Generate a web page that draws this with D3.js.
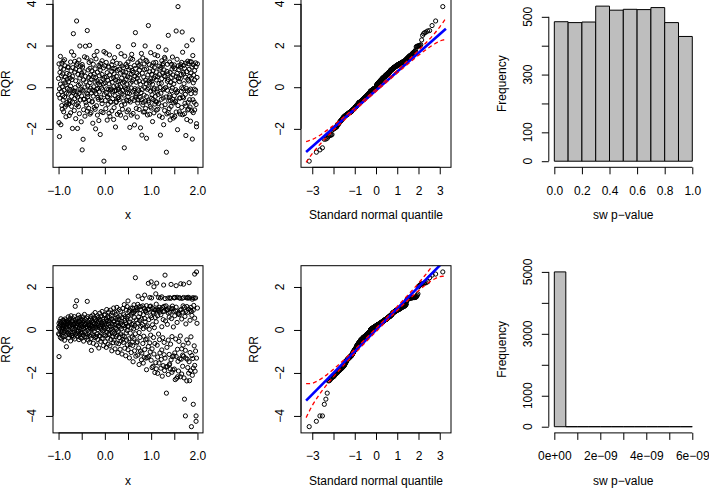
<!DOCTYPE html>
<html><head><meta charset="utf-8">
<script src="https://cdn.jsdelivr.net/npm/d3@7/dist/d3.min.js"></script>
<style>
body{margin:0;background:#fff}
svg{display:block;background:#fff}
text{font-family:"Liberation Sans",Arial,Helvetica,sans-serif;font-size:12px;fill:#000}
</style></head>
<body><svg id="chart" width="709" height="489"></svg>
<script>
// ---------------- DATA ----------------
const xCovariate = [
-1.00,-1.00,-0.99,-0.99,-0.98,-0.98,-0.97,-0.97,-0.96,-0.96,-0.95,-0.95,-0.94,-0.94,-0.93,-0.93,-0.92,-0.92,-0.91,-0.91,
-0.90,-0.90,-0.89,-0.89,-0.89,-0.88,-0.87,-0.87,-0.86,-0.86,-0.86,-0.85,-0.84,-0.84,-0.83,-0.83,-0.82,-0.82,-0.81,-0.81,
-0.80,-0.79,-0.79,-0.78,-0.78,-0.77,-0.77,-0.77,-0.76,-0.75,-0.75,-0.74,-0.74,-0.74,-0.73,-0.72,-0.72,-0.72,-0.71,-0.71,
-0.70,-0.70,-0.70,-0.69,-0.68,-0.68,-0.67,-0.66,-0.66,-0.65,-0.65,-0.65,-0.64,-0.63,-0.63,-0.63,-0.62,-0.61,-0.61,-0.61,
-0.60,-0.60,-0.59,-0.59,-0.58,-0.58,-0.57,-0.57,-0.56,-0.56,-0.55,-0.55,-0.54,-0.54,-0.53,-0.53,-0.52,-0.52,-0.51,-0.51,
-0.50,-0.50,-0.49,-0.49,-0.49,-0.48,-0.47,-0.47,-0.46,-0.46,-0.46,-0.45,-0.44,-0.44,-0.43,-0.43,-0.42,-0.42,-0.41,-0.41,
-0.40,-0.39,-0.39,-0.38,-0.38,-0.37,-0.37,-0.37,-0.36,-0.35,-0.35,-0.34,-0.34,-0.34,-0.33,-0.32,-0.32,-0.32,-0.31,-0.31,
-0.30,-0.30,-0.30,-0.29,-0.28,-0.28,-0.27,-0.26,-0.26,-0.25,-0.25,-0.25,-0.24,-0.23,-0.23,-0.23,-0.22,-0.21,-0.21,-0.21,
-0.20,-0.20,-0.19,-0.19,-0.18,-0.18,-0.17,-0.17,-0.16,-0.16,-0.15,-0.15,-0.14,-0.14,-0.13,-0.13,-0.12,-0.12,-0.11,-0.11,
-0.10,-0.10,-0.09,-0.09,-0.09,-0.08,-0.07,-0.07,-0.06,-0.06,-0.06,-0.05,-0.04,-0.04,-0.03,-0.03,-0.02,-0.02,-0.01,-0.01,
0.00,0.01,0.01,0.02,0.02,0.03,0.03,0.03,0.04,0.05,0.05,0.06,0.06,0.06,0.07,0.08,0.08,0.08,0.09,0.09,
0.10,0.10,0.10,0.11,0.12,0.12,0.13,0.14,0.14,0.15,0.15,0.15,0.16,0.17,0.17,0.17,0.18,0.19,0.19,0.19,
0.20,0.20,0.21,0.21,0.22,0.22,0.23,0.23,0.24,0.24,0.25,0.25,0.26,0.26,0.27,0.27,0.28,0.28,0.29,0.29,
0.30,0.30,0.31,0.31,0.31,0.32,0.33,0.33,0.34,0.34,0.34,0.35,0.36,0.36,0.37,0.37,0.38,0.38,0.39,0.39,
0.40,0.41,0.41,0.42,0.42,0.43,0.43,0.43,0.44,0.45,0.45,0.46,0.46,0.46,0.47,0.48,0.48,0.48,0.49,0.49,
0.50,0.50,0.50,0.51,0.52,0.52,0.53,0.54,0.54,0.55,0.55,0.55,0.56,0.57,0.57,0.57,0.58,0.59,0.59,0.59,
0.60,0.60,0.61,0.61,0.62,0.62,0.63,0.63,0.64,0.64,0.65,0.65,0.66,0.66,0.67,0.67,0.68,0.68,0.69,0.69,
0.70,0.70,0.71,0.71,0.71,0.72,0.73,0.73,0.74,0.74,0.74,0.75,0.76,0.76,0.77,0.77,0.78,0.78,0.79,0.79,
0.80,0.81,0.81,0.82,0.82,0.83,0.83,0.83,0.84,0.85,0.85,0.86,0.86,0.86,0.87,0.88,0.88,0.88,0.89,0.89,
0.90,0.90,0.90,0.91,0.92,0.92,0.93,0.94,0.94,0.95,0.95,0.95,0.96,0.97,0.97,0.97,0.98,0.99,0.99,0.99,
1.00,1.00,1.01,1.01,1.02,1.02,1.03,1.03,1.04,1.04,1.05,1.05,1.06,1.06,1.07,1.07,1.08,1.08,1.09,1.09,
1.10,1.10,1.11,1.11,1.11,1.12,1.13,1.13,1.14,1.14,1.14,1.15,1.16,1.16,1.17,1.17,1.18,1.18,1.19,1.19,
1.20,1.21,1.21,1.22,1.22,1.23,1.23,1.23,1.24,1.25,1.25,1.26,1.26,1.26,1.27,1.28,1.28,1.28,1.29,1.29,
1.30,1.30,1.30,1.31,1.32,1.32,1.33,1.34,1.34,1.35,1.35,1.35,1.36,1.37,1.37,1.37,1.38,1.39,1.39,1.39,
1.40,1.40,1.41,1.41,1.42,1.42,1.43,1.43,1.44,1.44,1.45,1.45,1.46,1.46,1.47,1.47,1.48,1.48,1.49,1.49,
1.50,1.50,1.51,1.51,1.51,1.52,1.53,1.53,1.54,1.54,1.54,1.55,1.56,1.56,1.57,1.57,1.58,1.58,1.59,1.59,
1.60,1.61,1.61,1.62,1.62,1.63,1.63,1.63,1.64,1.65,1.65,1.66,1.66,1.66,1.67,1.68,1.68,1.68,1.69,1.69,
1.70,1.70,1.70,1.71,1.72,1.72,1.73,1.74,1.74,1.75,1.75,1.75,1.76,1.77,1.77,1.77,1.78,1.79,1.79,1.79,
1.80,1.80,1.81,1.81,1.82,1.82,1.83,1.83,1.84,1.84,1.85,1.85,1.86,1.86,1.87,1.87,1.88,1.88,1.89,1.89,
1.90,1.90,1.91,1.91,1.91,1.92,1.93,1.93,1.94,1.94,1.94,1.95,1.96,1.96,1.97,1.97,1.98,1.98,1.99,2.00
];
// RQR of the correctly specified model (top row)
const rqrTop = [
0.42,-0.35,1.12,-1.70,-0.08,-2.37,0.71,-0.52,1.48,0.15,-1.80,0.93,-0.21,0.55,-0.88,1.15,0.02,-1.05,0.64,-0.40,
-0.62,1.25,0.33,-1.18,0.87,-0.14,1.32,-0.47,0.21,-0.95,1.03,0.48,-1.42,0.11,-0.85,-0.29,0.66,-0.74,0.39,-0.06,
0.95,-0.33,0.98,-0.81,0.27,-1.36,0.60,-0.62,-0.10,0.44,-0.67,1.21,-1.23,0.05,0.78,-0.44,1.70,-0.92,0.36,-0.18,
0.52,-0.71,-1.98,0.94,2.57,-0.26,1.53,-1.12,-0.18,0.73,-0.55,1.24,-0.02,-1.51,0.87,0.31,-0.38,1.07,3.18,-0.84,
1.15,-0.23,-1.98,-0.47,-0.76,0.62,-0.93,0.09,1.31,-0.30,0.81,-1.27,0.44,1.98,-0.61,0.16,-0.09,1.02,-1.66,0.57,
0.68,-0.42,1.09,-0.13,-3.01,0.97,-2.50,-0.18,-0.58,0.35,-1.08,0.74,-0.57,1.46,0.01,-1.39,0.52,1.97,-0.73,0.26,
-0.86,1.41,-0.29,-1.15,2.72,0.06,-0.34,-0.45,0.83,-1.01,0.47,-0.15,1.19,-0.64,2.01,0.22,-1.29,0.91,-0.05,0.58,
0.37,-1.22,1.27,-0.28,0.79,-0.71,-0.68,-0.14,-1.73,0.50,1.10,-0.43,0.02,1.52,-0.97,0.63,-0.19,-1.06,0.88,0.25,
-2.00,0.46,-0.31,1.36,-0.09,-0.89,1.72,0.31,-1.34,0.72,-0.06,-0.49,-0.58,0.20,1.05,-1.60,0.55,-0.23,0.98,0.12,
-2.27,0.83,1.14,-0.50,0.26,-1.17,-0.63,-0.04,-0.79,0.61,1.27,-0.12,0.39,-1.22,0.93,0.17,-3.55,1.71,-0.35,0.48,
1.03,-0.64,0.21,1.64,-1.03,0.49,-0.27,1.19,-0.08,-1.58,0.70,-0.46,-0.47,0.33,-0.82,0.95,-0.11,1.00,-1.25,0.16,
-0.37,1.55,0.59,-1.40,-0.13,-0.69,-0.72,0.41,-0.08,1.08,-1.14,0.76,0.24,-0.55,1.23,-0.20,0.88,-1.55,0.45,0.03,
0.64,-0.98,1.42,-0.18,-0.41,0.90,-1.91,0.35,-0.74,-0.16,0.52,-0.69,1.15,0.07,-1.30,0.81,0.27,-0.50,1.95,-0.03,
-0.11,-0.50,-0.59,0.86,-1.21,0.30,1.13,-0.24,-1.34,0.67,0.01,1.61,-0.87,0.43,-0.32,1.02,0.20,-1.06,0.74,-0.15,
0.93,-0.38,-0.67,0.25,-2.91,0.58,-0.81,1.49,-0.04,-1.47,0.71,-0.10,1.10,0.37,-0.62,0.99,-1.18,0.15,0.50,-0.28,
-0.46,1.21,-0.07,-1.09,0.84,-0.64,-0.30,0.48,-1.93,0.95,0.19,-0.71,1.38,-0.04,0.62,-1.34,1.58,0.28,-0.55,0.80,
1.34,-0.22,0.71,-1.26,0.36,2.04,-0.63,-0.15,1.04,-1.81,0.52,-0.07,2.62,0.90,-0.41,-0.48,-1.02,0.24,0.66,-0.33,
0.43,-1.43,1.17,-0.09,-0.76,-0.61,0.58,-0.17,1.05,-1.07,0.30,0.82,-0.49,1.26,-1.95,0.13,0.97,-0.26,1.62,-0.60,
-2.30,0.67,-0.11,1.40,-0.85,0.26,-0.73,-1.19,0.49,-0.38,1.12,-0.02,-1.18,0.85,1.98,-0.67,0.34,-1.02,1.29,0.17,
-2.45,0.88,-0.45,1.22,-0.10,-1.33,0.59,-0.65,2.96,-0.72,0.31,-0.04,1.09,-1.30,0.74,0.21,-0.93,1.66,0.40,-0.19,
0.27,-1.00,-0.53,0.62,-0.36,1.03,-1.65,0.14,0.79,-0.59,1.17,-0.13,0.44,-1.23,0.95,-0.06,-0.81,1.56,0.52,-0.44,
-0.69,1.19,0.35,-1.10,0.73,-0.71,-0.23,-0.08,-1.06,1.51,0.50,-0.35,1.94,-0.78,0.18,1.01,-1.38,0.61,-0.02,0.87,
-2.30,0.95,-0.29,-0.58,0.19,-0.90,1.27,0.41,-1.45,0.68,1.06,-0.52,-0.12,1.14,-1.80,0.55,-0.07,0.83,-1.12,1.43,
0.51,-0.84,1.36,-0.02,1.79,-0.47,-3.12,0.76,-1.28,0.29,1.10,-0.15,0.64,-1.22,2.49,0.37,-0.66,-0.48,0.09,-1.03,
1.21,-0.38,0.70,-1.57,0.23,-0.64,-0.92,0.46,1.10,-0.17,0.87,-1.36,-0.05,1.45,-0.58,0.59,-1.48,0.98,0.16,-0.75,
-0.41,1.07,0.32,-1.41,0.89,-0.70,-0.66,-0.12,-1.19,0.53,2.70,-0.26,1.34,0.66,-2.04,-0.20,3.87,-0.88,1.03,0.44,
0.84,-1.18,0.27,-0.51,-0.53,0.96,-1.29,0.40,1.08,-0.20,0.61,-0.97,1.19,-0.03,2.65,-0.46,1.68,-1.32,0.72,-0.08,
0.63,-0.51,1.04,0.17,-1.27,0.91,-0.77,-0.34,0.48,-0.90,-2.32,1.16,-0.06,-1.55,0.75,1.99,-0.18,0.38,-1.09,1.25,
-0.72,1.13,0.30,-1.05,0.86,-0.15,-0.60,0.52,-0.95,1.23,-0.09,-1.63,0.68,-0.31,1.21,0.44,-1.14,0.97,2.27,-2.49,
1.52,-0.60,0.21,1.08,-1.22,0.58,-0.09,-0.72,0.35,-1.09,0.80,-0.28,1.17,-0.14,-0.83,0.98,-1.75,-1.90,0.47,1.12
];
// RQR of the misspecified model (bottom row)
const rqrBottom = [
0.12,-0.18,0.31,-1.24,0.05,-0.22,0.40,0.18,-0.35,0.26,-0.08,0.52,-0.15,0.33,0.09,-0.41,0.21,-0.05,0.44,0.14,
0.22,-0.31,0.45,0.08,-0.12,0.36,-0.48,0.17,0.29,-0.02,0.51,-0.26,0.13,0.38,-0.78,0.06,0.24,-0.19,0.42,0.31,
0.35,-0.14,0.61,0.02,-0.37,0.28,0.47,-0.22,0.15,0.55,-0.09,0.32,-0.51,0.19,0.66,-0.27,0.08,0.41,-0.16,0.25,
0.18,-0.25,0.42,0.07,-0.33,0.51,0.26,-0.11,0.62,0.03,-0.42,0.29,1.10,0.14,-0.20,0.47,0.36,-0.07,1.36,0.21,
0.31,-0.16,0.54,0.12,-0.29,0.40,0.69,-0.06,0.23,-0.45,0.37,0.10,-0.21,0.58,0.19,-0.35,0.46,0.02,0.28,-0.12,
-0.38,0.27,0.49,-0.13,0.15,0.61,-0.24,0.36,0.06,-0.52,0.43,0.21,-0.09,0.72,0.30,-0.31,0.11,0.48,-0.18,0.24,
0.16,-0.33,0.55,0.09,1.33,-0.21,0.38,0.62,-0.47,0.27,0.04,-0.14,0.45,0.20,-0.58,0.33,0.11,-0.28,0.51,0.07,
0.24,-0.40,0.63,-0.95,0.18,0.41,-0.17,0.70,0.05,-0.62,0.34,0.12,-0.27,0.56,0.29,-0.08,0.47,-0.36,0.19,0.81,
0.09,0.52,-0.31,0.27,-0.70,0.43,0.14,-0.19,0.66,0.31,-0.45,0.02,0.58,0.22,-0.84,0.37,0.11,-0.26,0.49,0.78,
-0.29,0.45,0.18,-0.53,0.61,0.07,-0.16,0.34,0.86,-0.41,0.22,-0.04,0.50,0.28,-0.73,0.13,0.40,-0.22,0.69,0.05,
0.32,-0.55,0.71,0.12,-0.27,0.49,-0.81,0.23,0.95,-0.12,0.40,-0.38,0.06,0.62,-0.66,0.28,0.84,-0.19,0.44,0.01,
0.58,-0.21,0.36,-0.74,0.92,0.15,-0.44,0.67,0.04,-0.97,0.29,0.51,-0.13,0.80,-0.33,0.19,-0.59,0.43,1.02,-0.06,
-0.47,0.39,0.82,-0.16,0.25,-0.88,0.54,0.11,-0.30,0.73,0.02,-0.61,0.47,1.05,-0.24,0.33,-1.05,0.60,0.18,-0.09,
0.21,-0.64,0.48,0.95,-0.35,0.13,-0.90,0.66,0.30,-0.18,0.87,-0.52,0.06,0.41,-1.12,0.57,0.24,-0.27,1.00,-0.43,
-0.58,0.71,0.20,-0.31,1.18,0.44,-0.85,0.09,0.62,-1.20,0.35,-0.14,0.93,0.27,-0.47,0.55,-0.02,1.09,-0.69,0.16,
0.63,-0.92,1.35,0.18,-0.41,0.86,-1.30,0.37,0.92,-0.15,0.51,-0.68,1.01,0.09,-1.05,0.74,0.26,-0.33,0.79,-0.57,
-0.72,1.02,0.29,-1.48,0.80,0.05,1.17,-0.39,0.58,-0.97,0.21,0.88,2.43,-0.18,0.93,-1.22,0.47,1.04,-0.60,0.12,
0.94,-0.55,1.19,-1.17,0.32,1.57,-0.84,0.61,-0.12,1.08,-1.61,0.44,0.76,-0.35,0.95,-0.98,0.17,1.08,-1.39,0.50,
-1.07,1.46,0.25,-0.63,1.12,-1.54,0.71,0.06,-0.29,1.01,-1.27,0.53,1.62,-0.91,0.38,0.87,-0.45,0.90,-1.31,0.14,
-1.85,0.81,1.13,-0.42,0.19,-1.28,0.95,2.17,-0.77,0.48,-1.23,0.96,0.03,1.51,-0.60,1.09,-1.02,0.66,-0.24,1.11,
2.24,-1.41,0.57,1.49,-0.88,-1.75,1.02,0.24,-1.69,0.83,-0.35,0.79,2.01,-1.12,0.11,0.94,-0.63,-1.98,0.92,0.58,
-1.52,1.68,0.38,-1.81,1.20,2.18,-0.71,0.97,-1.26,0.66,-2.02,0.90,-0.19,1.51,-1.54,0.93,1.05,-0.45,0.83,-1.07,
1.49,-1.78,0.71,-1.37,0.97,0.15,-0.93,1.54,-2.15,1.05,-0.36,0.86,-1.66,0.48,2.09,-1.15,1.10,-0.58,-1.89,0.87,
2.55,-1.31,1.46,0.42,-1.72,1.12,-2.94,0.92,-0.81,0.95,-1.70,0.26,1.48,-2.07,0.79,-0.47,1.02,-1.14,0.60,-1.63,
-1.58,1.50,0.82,-1.81,1.47,-0.66,2.12,-1.39,0.53,0.99,-1.97,-0.31,1.11,-1.24,0.99,-1.86,0.87,0.14,-1.21,1.51,
1.49,-1.82,0.66,-1.07,1.51,-2.31,0.88,-0.42,1.06,-1.23,2.06,-2.25,0.35,1.52,-0.90,-2.18,0.78,-1.46,0.74,-1.91,
-0.53,1.50,0.71,-1.34,1.48,-2.18,0.92,-0.28,2.15,-1.36,0.95,-2.05,0.51,-0.88,1.47,-1.69,0.83,-1.17,1.12,-0.71,
1.51,-1.22,2.13,-2.23,-3.22,1.06,0.63,-0.95,-4.00,0.86,-1.31,0.28,1.50,-2.37,-0.46,1.09,-1.36,0.82,-1.75,1.48,
-0.61,1.52,-2.01,0.97,-1.48,2.20,-2.36,1.49,0.45,-1.05,0.92,-1.90,1.05,-0.32,-4.50,0.87,-1.19,0.68,-2.11,1.43,
1.50,-1.33,-3.46,0.92,-1.77,1.14,-0.74,1.48,-1.65,0.55,2.60,-1.92,1.49,-0.98,-4.00,-4.25,2.70,-1.31,0.31,1.02
];
// fitted Q-Q reference lines [intercept, slope]
const qqLineTop = [-0.15, 0.90];
const qqLineBottom = [0.00, 1.00];
// pointwise envelope (half-widths) at these normal quantiles
const envelopeQ = [-3.29,-3.15,-3.0,-2.75,-2.5,-2.25,-2.0,-1.5,-1.0,0,1.0,1.5,2.0,2.25,2.5,2.75,3.0,3.15,3.29];
const envelopeTop = [0.50,0.42,0.34,0.25,0.19,0.15,0.12,0.085,0.07,0.055,0.07,0.085,0.12,0.15,0.19,0.25,0.34,0.42,0.50];
const envelopeBottom = [0.79,0.65,0.52,0.38,0.28,0.22,0.175,0.122,0.096,0.079,0.096,0.122,0.175,0.22,0.28,0.38,0.52,0.65,0.79];
// histograms of Shapiro-Wilk p-values
const swBreaksTop = [0,0.1,0.2,0.3,0.4,0.5,0.6,0.7,0.8,0.9,1.0];
const swCountsTop = [483,480,482,537,523,526,525,532,480,432];
const swBreaksBottom = [0,5e-10,1e-9,1.5e-9,2e-9,2.5e-9,3e-9,3.5e-9,4e-9,4.5e-9,5e-9,5.5e-9,6e-9];
const swCountsBottom = [5000,0,0,0,0,0,0,0,0,0,0,0];
// ticks and labels
const scatterXTicks = [-1,-0.5,0,0.5,1,1.5,2];
const scatterXLabels = ["-1.0","","0.0","","1.0","","2.0"];
const yTicksTop = [-2,0,2,4];
const yTicksBottom = [-4,-2,0,2];
const qqXTicks = [-3,-2,-1,0,1,2,3];
const qqXLabels = ["-3","","-1","0","1","2","3"];
const histXTicksTop = [0,0.2,0.4,0.6,0.8,1.0];
const histXLabelsTop = ["0.0","0.2","0.4","0.6","0.8","1.0"];
const histYTicksTop = [0,100,200,300,400,500];
const histYLabelsTop = ["0","100","","300","","500"];
const histXTicksBottom = [0,1e-9,2e-9,3e-9,4e-9,5e-9,6e-9];
const histXLabelsBottom = ["0e+00","","2e-09","","4e-09","","6e-09"];
const histYTicksBottom = [0,1000,2000,3000,4000,5000];
const histYLabelsBottom = ["0","1000","","3000","","5000"];

// ---------------- DRAWING ----------------
function qnorm(p){
  const a=[-3.969683028665376e+01,2.209460984245205e+02,-2.759285104469687e+02,1.383577518672690e+02,-3.066479806614716e+01,2.506628277459239e+00];
  const b=[-5.447609879822406e+01,1.615858368580409e+02,-1.556989798598866e+02,6.680131188771972e+01,-1.328068155288572e+01];
  const c=[-7.784894002430293e-03,-3.223964580411365e-01,-2.400758277161838e+00,-2.549732539343734e+00,4.374664141464968e+00,2.938163982698783e+00];
  const d=[7.784695709041462e-03,3.224671290700398e-01,2.445134137142996e+00,3.754408661907416e+00];
  const pl=0.02425; let q,r;
  if(p<pl){q=Math.sqrt(-2*Math.log(p));return (((((c[0]*q+c[1])*q+c[2])*q+c[3])*q+c[4])*q+c[5])/((((d[0]*q+d[1])*q+d[2])*q+d[3])*q+1);}
  if(p>1-pl){q=Math.sqrt(-2*Math.log(1-p));return -(((((c[0]*q+c[1])*q+c[2])*q+c[3])*q+c[4])*q+c[5])/((((d[0]*q+d[1])*q+d[2])*q+d[3])*q+1);}
  q=p-0.5;r=q*q;return (((((a[0]*r+a[1])*r+a[2])*r+a[3])*r+a[4])*r+a[5])*q/(((((b[0]*r+b[1])*r+b[2])*r+b[3])*r+b[4])*r+1);
}
const minus = s => s.replace(/-/g,"\u2212");
const svg = d3.select("#chart");
const INK = "#000";
const rows = [{y0:-1.2,y1:167.3},{y0:265.7,y1:432.9}];
const cols = [{x0:53,x1:203},{x0:301,x1:451},{x0:548.8,x1:697.8}];
const TICK = 7;

function bottomAxis(g, x, ticks, labels, y){
  const ax = d3.axisBottom(x).tickValues(ticks).tickFormat((d,i)=>minus(labels[i])).tickSize(TICK).tickSizeOuter(0).tickPadding(12);
  const a = g.append("g").attr("transform",`translate(0,${y})`).call(ax);
  a.select(".domain").attr("d",`M${x(ticks[0])},0H${x(ticks[ticks.length-1])}`).attr("stroke",INK);
  a.selectAll(".tick line").attr("stroke",INK);
  a.selectAll("text").attr("font-size",12).attr("font-family",null).attr("fill",INK);
}
function leftAxis(g, y, ticks, labels, x0){
  const ax = d3.axisLeft(y).tickValues(ticks).tickFormat("").tickSize(TICK).tickSizeOuter(0);
  const a = g.append("g").attr("transform",`translate(${x0},0)`).call(ax);
  a.select(".domain").attr("d",`M0,${y(ticks[0])}V${y(ticks[ticks.length-1])}`).attr("stroke",INK);
  a.selectAll(".tick line").attr("stroke",INK);
  g.selectAll(null).data(ticks.map((t,i)=>[t,labels[i]]).filter(d=>d[1]!==""))
    .join("text").attr("transform",d=>`translate(${x0-21},${y(d[0])}) rotate(-90)`)
    .attr("text-anchor","middle").attr("dy","0.35em").text(d=>minus(d[1]));
}
function titles(g, col, row, xt, yt){
  g.append("text").attr("x",(col.x0+col.x1)/2).attr("y",row.y1+52)
    .attr("text-anchor","middle").text(minus(xt));
  g.append("text").attr("transform",`translate(${col.x0-47},${(Math.max(row.y0,0)+row.y1)/2}) rotate(-90)`)
    .attr("text-anchor","middle").attr("dy","0.35em").text(yt);
}
function box(g,col,row){
  g.append("rect").attr("x",col.x0).attr("y",row.y0).attr("width",col.x1-col.x0).attr("height",row.y1-row.y0)
    .attr("fill","none").attr("stroke",INK).attr("stroke-width",1);
}
function points(g, pts, x, y){
  g.append("g").selectAll("circle").data(pts).join("circle")
    .attr("cx",d=>x(d[0])).attr("cy",d=>y(d[1])).attr("r",2.1)
    .attr("fill","none").attr("stroke",INK).attr("stroke-width",1);
}

function scatterPanel(ri, ys, yDom, yTicks){
  const row=rows[ri], col=cols[0], g=svg.append("g");
  const x=d3.scaleLinear().domain([-1.12,2.12]).range([col.x0,col.x1]);
  const y=d3.scaleLinear().domain(yDom).range([row.y1,row.y0]);
  const n=Math.min(xCovariate.length, ys.length);
  points(g, d3.range(n).map(i=>[xCovariate[i],ys[i]]), x, y);
  box(g,col,row);
  bottomAxis(g,x,scatterXTicks,scatterXLabels,row.y1);
  leftAxis(g,y,yTicks,yTicks.map(String),col.x0);
  titles(g,col,row,"x","RQR");
}
function qqPanel(ri, ys, yDom, yTicks, line, env, id){
  const row=rows[ri], col=cols[1], g=svg.append("g");
  const x=d3.scaleLinear().domain([-3.53,3.53]).range([col.x0,col.x1]);
  const y=d3.scaleLinear().domain(yDom).range([row.y1,row.y0]);
  const s=ys.slice().sort((a,b)=>a-b), n=s.length;
  points(g, s.map((v,i)=>[qnorm((i+0.5)/n),v]), x, y);
  svg.append("clipPath").attr("id",id).append("rect").attr("x",col.x0).attr("y",row.y0)
    .attr("width",col.x1-col.x0).attr("height",row.y1-row.y0);
  const lg=g.append("g").attr("clip-path",`url(#${id})`);
  const fit=q=>line[0]+line[1]*q;
  lg.append("line").attr("x1",x(envelopeQ[0])).attr("y1",y(fit(envelopeQ[0])))
    .attr("x2",x(envelopeQ[envelopeQ.length-1])).attr("y2",y(fit(envelopeQ[envelopeQ.length-1])))
    .attr("stroke","blue").attr("stroke-width",2.6);
  const ln=d3.line().x(d=>x(d[0])).y(d=>y(d[1])).curve(d3.curveMonotoneX);
  [1,-1].forEach(sg=>{
    lg.append("path").attr("d",ln(envelopeQ.map((q,i)=>[q,fit(q)+sg*env[i]])))
      .attr("fill","none").attr("stroke","red").attr("stroke-width",1.3).attr("stroke-dasharray","4,3");
  });
  box(g,col,row);
  bottomAxis(g,x,qqXTicks,qqXLabels,row.y1);
  leftAxis(g,y,yTicks,yTicks.map(String),col.x0);
  titles(g,col,row,"Standard normal quantile","RQR");
}
function histPanel(ri, breaks, counts, xDom, yDom, xt, xl, yt, yl){
  const row=rows[ri], col=cols[2], g=svg.append("g");
  const x=d3.scaleLinear().domain(xDom).range([col.x0,col.x1]);
  const y=d3.scaleLinear().domain(yDom).range([row.y1,row.y0]);
  g.selectAll("path.bar").data(counts).join("path").attr("class","bar")
    .attr("d",(c,i)=>`M${x(breaks[i])},${y(0)}V${y(c)}H${x(breaks[i+1])}V${y(0)}Z`)
    .attr("fill","#BEBEBE").attr("stroke",INK).attr("stroke-width",1);
  bottomAxis(g,x,xt,xl,row.y1);
  leftAxis(g,y,yt,yl,col.x0);
  titles(g,col,row,"sw p-value","Frequency");
}

scatterPanel(0, rqrTop, [-3.845,4.245], yTicksTop);
qqPanel(0, rqrTop, [-3.845,4.245], yTicksTop, qqLineTop, envelopeTop, "clipTop");
histPanel(0, swBreaksTop, swCountsTop, [-0.04,1.04], [-21.1,562.4], histXTicksTop, histXLabelsTop, histYTicksTop, histYLabelsTop);
scatterPanel(1, rqrBottom, [-4.79,2.99], yTicksBottom);
qqPanel(1, rqrBottom, [-4.79,2.99], yTicksBottom, qqLineBottom, envelopeBottom, "clipBottom");
histPanel(1, swBreaksBottom, swCountsBottom, [-2.4e-10,6.24e-9], [-200,5200], histXTicksBottom, histXLabelsBottom, histYTicksBottom, histYLabelsBottom);
</script>
</body></html>
